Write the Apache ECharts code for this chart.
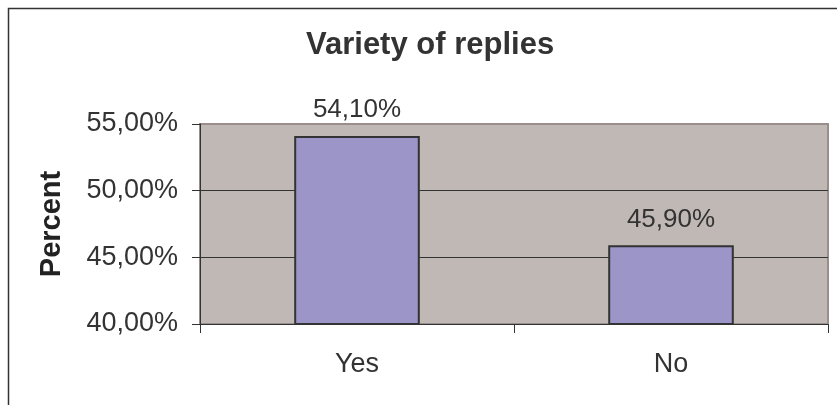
<!DOCTYPE html>
<html>
<head>
    <meta charset="utf-8">
    <title>Variety of replies</title>
    <style>
        html, body { margin: 0; padding: 0; background: #fff; }
    </style>
</head>
<body>
    <div id="main" style="width:837px;height:405px"></div>
    <script src="https://cdn.jsdelivr.net/npm/echarts@6/dist/echarts.min.js"></script>
    <script type="text/javascript">

        const CATEGORIES = ['Yes', 'No'];
        const PERCENTS = [54.1, 45.9];

        const Y_MIN = 40;
        const Y_MAX = 55;
        const Y_STEP = 5;

        // 逗号小数
        function fmt(v) {
            return v.toFixed(2).replace('.', ',') + '%';
        }

        let myChart = echarts.init(document.getElementById('main'));

        const FONT = '"Liberation Sans", Arial, sans-serif';

        var option = {
            animation: false,
            textStyle: { fontFamily: FONT },
            title: {
                text: 'Variety of replies',
                left: 301,
                top: 25,
                textStyle: {
                    fontFamily: FONT,
                    fontSize: 31,
                    fontWeight: 'bold',
                    color: '#333'
                }
            },
            graphic: [
                {
                    type: 'rect',
                    shape: { x: 8.5, y: 8.5, width: 900, height: 500 },
                    style: { fill: null, stroke: '#333', lineWidth: 1.5 },
                    z: -10
                }
            ],
            grid: {
                left: 200,
                top: 124,
                right: 9,
                bottom: 81,
                show: true,
                backgroundColor: '#C0B8B5',
                borderColor: '#9A8E8C',
                borderWidth: 2
            },
            xAxis: {
                type: 'category',
                data: CATEGORIES,
                axisLine: { lineStyle: { color: '#333', width: 1 } },
                axisTick: { show: true, length: 9, alignWithLabel: false, lineStyle: { color: '#333' } },
                axisLabel: { fontSize: 27, color: '#333', margin: 27, fontFamily: FONT },
                splitLine: { show: false }
            },
            yAxis: {
                type: 'value',
                min: Y_MIN,
                max: Y_MAX,
                interval: Y_STEP,
                name: 'Percent',
                nameLocation: 'middle',
                nameGap: 134,
                nameRotate: 90,
                nameTextStyle: { fontSize: 29, fontWeight: 'bold', color: '#222', fontFamily: FONT },
                axisLine: { show: true, lineStyle: { color: '#333', width: 1 } },
                axisTick: { show: true, length: 8, lineStyle: { color: '#333' } },
                axisLabel: {
                    fontSize: 27,
                    color: '#333',
                    margin: 22,
                    fontFamily: FONT,
                    formatter: function (v) { return fmt(v); }
                },
                splitLine: {
                    show: true,
                    lineStyle: { color: ['#333', '#333', '#333', '#9A8E8C'], width: 1 }
                }
            },
            series: [
                {
                    type: 'bar',
                    data: PERCENTS,
                    barWidth: '40%',
                    itemStyle: {
                        color: '#9C95C8',
                        borderColor: '#333',
                        borderWidth: 2
                    },
                    label: {
                        show: true,
                        position: 'top',
                        distance: 13,
                        fontSize: 26,
                        color: '#333',
                        fontFamily: FONT,
                        formatter: function (p) { return fmt(p.value); }
                    }
                }
            ]
        };
        myChart.setOption(option);

    </script>
</body>
</html>
